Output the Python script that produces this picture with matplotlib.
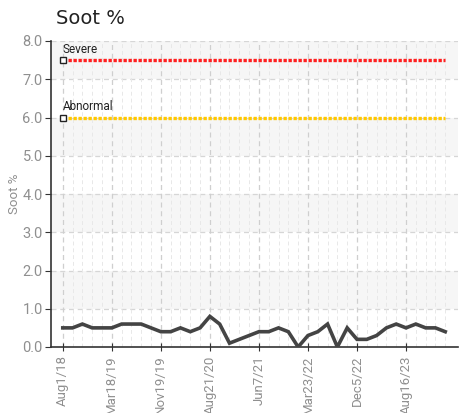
import matplotlib
matplotlib.use("Agg")
import matplotlib.pyplot as plt
from matplotlib.ticker import MultipleLocator
import numpy as np

# soot readings, one per sample (40 samples)
soot = [0.5, 0.5, 0.6, 0.5, 0.5, 0.5, 0.6, 0.6, 0.6, 0.5,
        0.4, 0.4, 0.5, 0.4, 0.5, 0.8, 0.6, 0.1, 0.2, 0.3,
        0.4, 0.4, 0.5, 0.4, 0.0, 0.3, 0.4, 0.6, 0.0, 0.5,
        0.2, 0.2, 0.3, 0.5, 0.6, 0.5, 0.6, 0.5, 0.5, 0.4]
tick_idx = [0, 5, 10, 15, 20, 25, 30, 35]
tick_labels = ["Aug1/18", "Mar18/19", "Nov19/19", "Aug21/20",
               "Jun7/21", "Mar23/22", "Dec5/22", "Aug16/23"]
severe = 7.5
abnormal = 6.0

fam = ["Roboto", "DejaVu Sans"]
grey = "#8f8f8f"

fig = plt.figure(figsize=(4.67, 4.13), dpi=100)
ax = fig.add_axes([51/467, 1 - 347/413, (458-51)/467, (347-41)/413])

x = np.arange(len(soot))

# alternating bands
for lo in range(1, 8, 2):
    ax.axhspan(lo, lo + 1, color="#f6f6f6", zorder=0, lw=0)

# grid
for yv in range(1, 9):
    ax.axhline(yv, color="#d6d6d6", lw=0.9, ls=(0, (4, 3)), zorder=1)
for xv in x:
    if xv in tick_idx:
        ax.axvline(xv, color="#cfcfcf", lw=0.9, ls=(0, (4, 3)), zorder=1)
    else:
        ax.axvline(xv, color="#e8e8e8", lw=0.7, ls=(0, (4, 3)), zorder=1)

# limit lines
ax.plot(x, [severe]*len(x), color="#ff2020", lw=2.4, ls=(0, (1.0, 0.5)), zorder=3)
ax.plot(x, [abnormal]*len(x), color="#ffc800", lw=2.4, ls=(0, (1.0, 0.5)), zorder=3)
ax.plot([0], [severe], marker="s", ms=4, mfc="white", mec="#222222", mew=1, zorder=4)
ax.plot([0], [abnormal], marker="s", ms=4, mfc="white", mec="#222222", mew=1, zorder=4)
ax.text(0, severe + 0.12, "Severe", fontsize=8.5, color="#222222", family=fam, va="bottom")
ax.text(0, abnormal + 0.12, "Abnormal", fontsize=8.5, color="#222222", family=fam, va="bottom")

# soot line
ax.plot(x, soot, color="#444444", lw=2.6, zorder=5, solid_joinstyle="miter")

ax.set_xlim(-1.2, 40.3)
ax.set_ylim(0, 8)
ax.yaxis.set_major_locator(MultipleLocator(1))
ax.set_yticklabels([f"{v:.1f}" for v in ax.get_yticks()])
ax.set_xticks(tick_idx)
ax.set_xticklabels(tick_labels, rotation=90)

for s in ["top", "right"]:
    ax.spines[s].set_visible(False)
for s in ["left", "bottom"]:
    ax.spines[s].set_color("#333333")
    ax.spines[s].set_linewidth(1.2)
ax.tick_params(axis="y", colors="#333333", labelcolor=grey, labelsize=10.5, length=4, pad=2)
ax.tick_params(axis="x", colors="#333333", labelcolor=grey, labelsize=9.5,
               direction="inout", length=6, pad=3)
for lab in ax.get_xticklabels() + ax.get_yticklabels():
    lab.set_family(fam)

ax.set_ylabel("Soot %", fontsize=9.5, color=grey, family=fam, labelpad=1)
fig.text(56/467, 1 - 19/413, "Soot %", fontsize=14, color="#222222",
         family=["DejaVu Sans"], va="center")

fig.savefig("out.png", dpi=100)
